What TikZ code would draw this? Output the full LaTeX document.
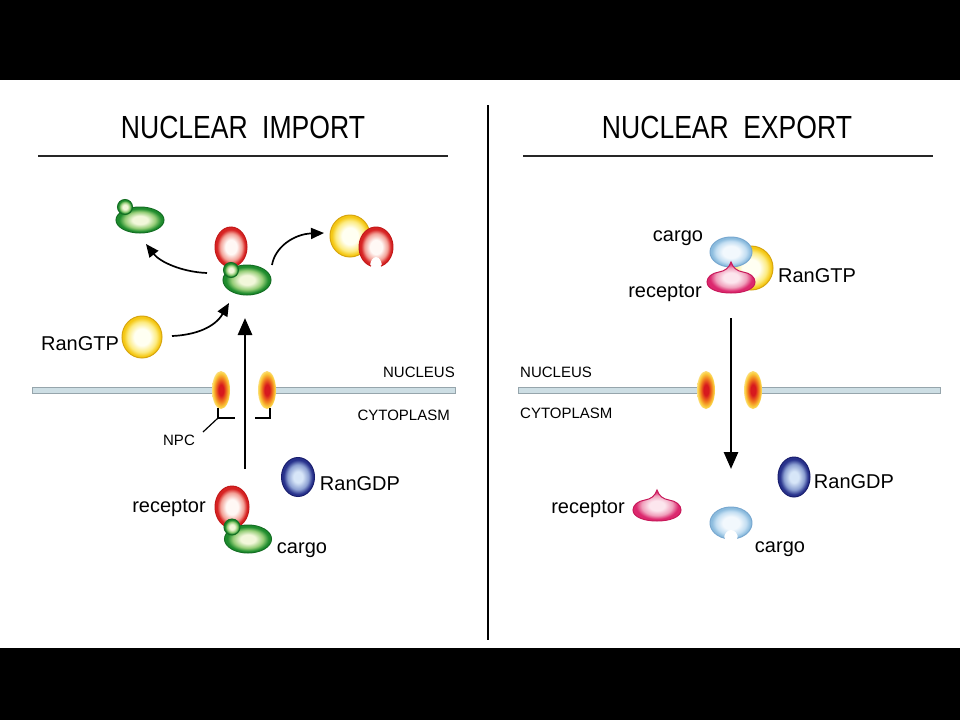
\documentclass[tikz,border=0pt]{standalone}
\usepackage{fontspec}
\setmainfont{Liberation Sans}
\newfontfamily\titlefont[FakeStretch=0.83]{Liberation Sans}
\usetikzlibrary{arrows.meta,shapes.geometric}

\definecolor{gEdge}{RGB}{30,140,45}
\definecolor{gMid}{RGB}{150,205,120}
\definecolor{gIn}{RGB}{242,247,218}
\definecolor{gLine}{RGB}{20,110,35}
\definecolor{rEdge}{RGB}{215,35,35}
\definecolor{rMid}{RGB}{242,160,150}
\definecolor{rIn}{RGB}{255,248,245}
\definecolor{rLine}{RGB}{195,25,25}
\definecolor{yEdge}{RGB}{245,200,20}
\definecolor{yMid}{RGB}{252,235,130}
\definecolor{yIn}{RGB}{255,255,242}
\definecolor{yLine}{RGB}{215,165,15}
\definecolor{bEdge}{RGB}{40,50,140}
\definecolor{bMid}{RGB}{140,160,210}
\definecolor{bIn}{RGB}{215,230,248}
\definecolor{bLine}{RGB}{25,30,110}
\definecolor{lEdge}{RGB}{140,188,222}
\definecolor{lMid}{RGB}{195,222,242}
\definecolor{lIn}{RGB}{242,248,253}
\definecolor{lLine}{RGB}{120,168,208}
\definecolor{pEdge}{RGB}{220,40,110}
\definecolor{pMid}{RGB}{240,160,188}
\definecolor{pIn}{RGB}{252,230,238}
\definecolor{pLine}{RGB}{200,25,90}
\definecolor{nRed}{RGB}{215,25,30}
\definecolor{nOr}{RGB}{240,120,30}
\definecolor{nYe}{RGB}{250,205,60}
\definecolor{memFill}{RGB}{205,222,228}
\definecolor{memLine}{RGB}{150,165,172}

\pgfdeclareradialshading{greenS}{\pgfpointorigin}{color(0bp)=(gIn); color(8bp)=(gIn); color(16bp)=(gMid); color(22bp)=(gEdge); color(50bp)=(gEdge)}
\pgfdeclareradialshading{redS}{\pgfpointorigin}{color(0bp)=(rIn); color(9bp)=(rIn); color(17bp)=(rMid); color(22bp)=(rEdge); color(50bp)=(rEdge)}
\pgfdeclareradialshading{yellowS}{\pgfpointorigin}{color(0bp)=(yIn); color(10bp)=(yIn); color(18bp)=(yMid); color(23bp)=(yEdge); color(50bp)=(yEdge)}
\pgfdeclareradialshading{blueS}{\pgfpointorigin}{color(0bp)=(bIn); color(7bp)=(bIn); color(16bp)=(bMid); color(22bp)=(bEdge); color(50bp)=(bEdge)}
\pgfdeclareradialshading{lblueS}{\pgfpointorigin}{color(0bp)=(lIn); color(10bp)=(lIn); color(18bp)=(lMid); color(23bp)=(lEdge); color(50bp)=(lEdge)}
\pgfdeclareradialshading{pinkS}{\pgfpointorigin}{color(0bp)=(pIn); color(8bp)=(pIn); color(16bp)=(pMid); color(22bp)=(pEdge); color(50bp)=(pEdge)}
\pgfdeclareradialshading{npcS}{\pgfpointorigin}{color(0bp)=(nRed); color(7bp)=(nRed); color(15bp)=(nOr); color(22bp)=(nYe); color(25bp)=(nYe!70!white); color(50bp)=(white)}

\tikzset{
  blob/.style n args={3}{ellipse, inner sep=0pt, minimum width=#2, minimum height=#3, shade, shading=#1, line width=1pt},
  lbl/.style={font=\fontsize{20}{24}\selectfont, anchor=base, inner sep=0pt},
  small/.style={font=\fontsize{15}{18}\selectfont, anchor=base, inner sep=0pt},
  ttl/.style={font=\titlefont\fontsize{32}{36}\selectfont, anchor=base, inner sep=0pt},
  rule/.style={line width=1.8pt, draw=black!85},
  bigarrow/.style={line width=2.8pt, -{Triangle[length=17pt,width=14pt]}},
  curvarrow/.style={line width=1.7pt, -{Triangle[length=13pt,width=11pt]}},
  membrane/.style={fill=memFill, draw=memLine, line width=0.8pt},
  bracket/.style={line width=1.2pt},
  kiss/.pic={
    \shadedraw[shading=pinkS, draw=pLine, line width=1pt]
      (0,-20) .. controls (2,-14) and (6,-11) .. (12,-10)
      .. controls (19,-9) and (24,-5) .. (24,0)
      .. controls (24,7) and (13,11) .. (0,11)
      .. controls (-13,11) and (-24,7) .. (-24,0)
      .. controls (-24,-5) and (-19,-9) .. (-12,-10)
      .. controls (-6,-11) and (-2,-14) .. (0,-20) -- cycle;
  }
}

\begin{document}
\begin{tikzpicture}[x=1pt,y=-1pt]
% background and frame
\fill[black] (0,0) rectangle (960,720);
\fill[white] (0,80) rectangle (960,648);
\useasboundingbox (0,0) rectangle (960,720);

% titles and rules
\node[ttl] (tImp) at (243,138) {NUCLEAR\hspace{0.45em}IMPORT};
\node[ttl] (tExp) at (727,138) {NUCLEAR\hspace{0.45em}EXPORT};
\coordinate (uL1) at (38,156); \coordinate (uL2) at (448,156);
\coordinate (uR1) at (523,156); \coordinate (uR2) at (933,156);
\draw[rule] (uL1) -- (uL2);
\draw[rule] (uR1) -- (uR2);
\coordinate (dv1) at (488,105); \coordinate (dv2) at (488,640);
\draw[line width=2pt] (dv1) -- (dv2);

% ===== membranes =====
\draw[membrane] (32,387) rectangle (219,393);
\draw[membrane] (269,387) rectangle (455,393);
\draw[membrane] (518,387) rectangle (704,393);
\draw[membrane] (755,387) rectangle (940,393);
\node[blob={npcS}{18}{38}] (npcL1) at (221,390) {};
\node[blob={npcS}{18}{38}] (npcL2) at (267,390) {};
\node[blob={npcS}{18}{38}] (npcR1) at (706,390) {};
\node[blob={npcS}{18}{38}] (npcR2) at (753,390) {};

% compartment labels
\node[small, anchor=base east] (nucL) at (455,377) {NUCLEUS};
\node[small, anchor=base east] (cytL) at (450,420) {CYTOPLASM};
\node[small, anchor=base west] (nucR) at (520,377) {NUCLEUS};
\node[small, anchor=base west] (cytR) at (520,418) {CYTOPLASM};

% NPC brackets
\coordinate (bk1) at (218,408); \coordinate (bk2) at (218,418); \coordinate (bk3) at (235,418);
\coordinate (bk4) at (203,432);
\coordinate (bk5) at (270,408); \coordinate (bk6) at (270,418); \coordinate (bk7) at (255,418);
\draw[bracket] (bk1) -- (bk2) -- (bk3);
\draw[bracket] (bk2) -- (bk4);
\draw[bracket] (bk5) -- (bk6) -- (bk7);
\node[small] (npcLab) at (179,445) {NPC};

% ===== NUCLEAR IMPORT =====
% top-left free cargo
\node[blob={greenS}{48}{26}, draw=gLine] (cTL) at (140,220) {};
\node[blob={greenS}{15}{15}, draw=gLine] (cTLs) at (125,207) {};

% central complex in nucleus
\node[blob={redS}{32}{40}, draw=rLine] (rC) at (231,247) {};
\node[blob={greenS}{48}{30}, draw=gLine] (gC) at (247,280) {};
\node[blob={greenS}{15}{15}, draw=gLine] (gCs) at (231,270) {};

% RanGTP + receptor (open) top right
\node[blob={yellowS}{40}{42}, draw=yLine] (yTR) at (350,236) {};
\shade[shading=redS] (376,247) ellipse [x radius=17, y radius=20];
\fill[white] (376,267) ellipse [x radius=6, y radius=10];
\draw[rLine, line width=1pt] (376,247) ++(107:17 and 20) arc[start angle=107, end angle=433, x radius=17, y radius=20];
\node[inner sep=0pt, minimum size=1pt] (rTR) at (376,247) {};

% RanGTP left
\node[blob={yellowS}{40}{42}, draw=yLine] (yL) at (142,337) {};
\node[lbl] (yLlab) at (80,350) {RanGTP};

% cytoplasm complex
\node[blob={redS}{34}{42}, draw=rLine] (rB) at (232,507) {};
\node[blob={greenS}{47}{28}, draw=gLine] (gB) at (248,539) {};
\node[blob={greenS}{16}{16}, draw=gLine] (gBs) at (232,527) {};
\node[lbl] (recL) at (169,512) {receptor};
\node[lbl] (carL) at (302,553) {cargo};

% RanGDP left
\node[blob={blueS}{33}{39}, draw=bLine] (bL) at (298,477) {};
\node[lbl] (bLlab) at (360,490) {RanGDP};

% import arrows
\coordinate (impS) at (245,469); \coordinate (impE) at (245,318);
\draw[bigarrow] (impS) -- (impE);
\coordinate (a1s) at (207,273); \coordinate (a1e) at (146,244);
\draw[curvarrow] (a1s) .. controls (182,272) and (160,262) .. (a1e);
\coordinate (a2s) at (272,265); \coordinate (a2e) at (324,233);
\draw[curvarrow] (a2s) .. controls (275,247) and (294,234) .. (a2e);
\coordinate (a3s) at (172,336); \coordinate (a3e) at (229,303);
\draw[curvarrow] (a3s) .. controls (196,335) and (215,327) .. (a3e);

% ===== NUCLEAR EXPORT =====
\node[blob={yellowS}{44}{44}, draw=yLine] (yE) at (751,268) {};
\node[blob={lblueS}{42}{30}, draw=lLine] (cE) at (731,252) {};
\pic (rE) at (731,282) {kiss};
\node[lbl] (cElab) at (678,241) {cargo};
\node[lbl] (yElab) at (817,282) {RanGTP};
\node[lbl] (rElab) at (665,297) {receptor};

\coordinate (expS) at (731,318); \coordinate (expE) at (731,469);
\draw[bigarrow] (expS) -- (expE);

% cytoplasm, export side
\node[blob={blueS}{32}{40}, draw=bLine] (bR) at (794,477) {};
\node[lbl] (bRlab) at (854,488) {RanGDP};
\pic (rF) at (657,510) {kiss};
\node[lbl] (rFlab) at (588,513) {receptor};
\shade[shading=lblueS] (731,523) ellipse [x radius=21, y radius=16];
\fill[white] (731,539) ellipse [x radius=7, y radius=9];
\draw[lLine, line width=1pt] (731,523) ++(107:21 and 16) arc[start angle=107, end angle=433, x radius=21, y radius=16];
\node[inner sep=0pt, minimum size=1pt] (cF) at (731,523) {};
\node[lbl] (cFlab) at (780,552) {cargo};
\end{tikzpicture}
\end{document}
